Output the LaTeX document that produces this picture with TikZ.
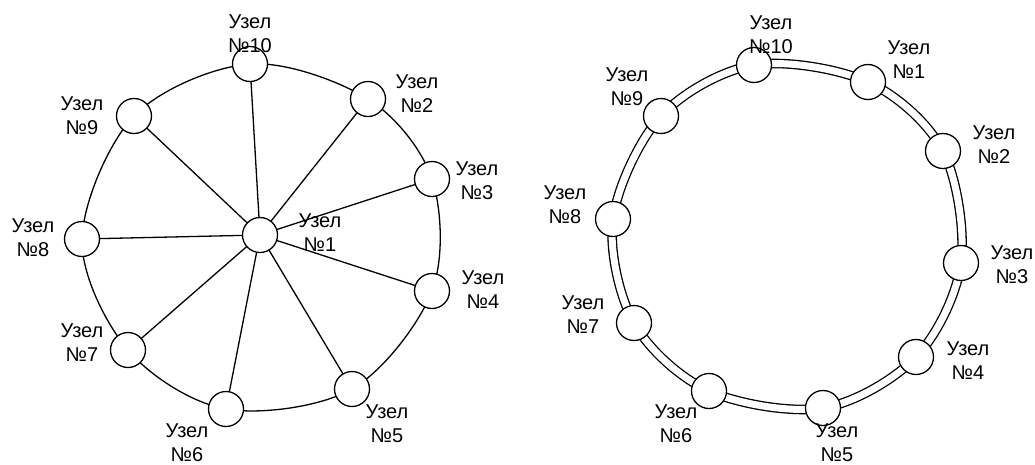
\documentclass[tikz,border=0pt]{standalone}
\usepackage{fontspec}
\setmainfont{Liberation Sans}
\begin{document}
\begin{tikzpicture}[x=1pt,y=-1pt,
  nd/.style={circle,draw,fill=white,line width=1.3pt,minimum size=35pt,inner sep=0pt},
  lbl/.style={align=center,font=\fontsize{20}{24}\selectfont,inner sep=0pt},
  wire/.style={line width=1.3pt}]
\useasboundingbox (0,0) rectangle (1035,464);
% left: star + ring
\coordinate (a10) at (250,64);
\coordinate (a2) at (368,99);
\coordinate (a3) at (432,179);
\coordinate (a4) at (432,291);
\coordinate (a5) at (352,389);
\coordinate (a6) at (226,409);
\coordinate (a7) at (128,350);
\coordinate (a8) at (82,239);
\coordinate (a9) at (134,116);
\coordinate (a1) at (260,235);
\draw[wire] plot[smooth cycle,tension=0.55] coordinates {(a10) (a2) (a3) (a4) (a5) (a6) (a7) (a8) (a9)};
\foreach \i in {2,...,10} {\draw[wire] (a1) -- (a\i);}
\foreach \i in {1,...,10} {\node[nd] (A\i) at (a\i) {};}
\node[lbl] (LA10) at (250,34) {Узел\\№10};
\node[lbl] (LA2) at (417,94) {Узел\\№2};
\node[lbl] (LA3) at (477,181) {Узел\\№3};
\node[lbl] (LA4) at (483,290) {Узел\\№4};
\node[lbl] (LA5) at (387,424) {Узел\\№5};
\node[lbl] (LA6) at (187,443) {Узел\\№6};
\node[lbl] (LA7) at (82,343) {Узел\\№7};
\node[lbl] (LA8) at (33,238) {Узел\\№8};
\node[lbl] (LA9) at (82,116) {Узел\\№9};
\node[lbl] (LA1) at (320,233) {Узел\\№1};
% right: double ring
\coordinate (b10) at (754,65);
\coordinate (b1) at (868,82);
\coordinate (b2) at (943,151);
\coordinate (b3) at (961,263);
\coordinate (b4) at (916,357);
\coordinate (b5) at (823,408);
\coordinate (b6) at (709,391);
\coordinate (b7) at (634,323);
\coordinate (b8) at (613,219);
\coordinate (b9) at (661,116);
\draw[line width=1.3pt,double=white,double distance=7pt] plot[smooth cycle,tension=0.55] coordinates {(b10) (b1) (b2) (b3) (b4) (b5) (b6) (b7) (b8) (b9)};
\foreach \i in {1,...,10} {\node[nd] (B\i) at (b\i) {};}
\node[lbl] (LB10) at (771,35) {Узел\\№10};
\node[lbl] (LB1) at (909,60) {Узел\\№1};
\node[lbl] (LB2) at (994,145) {Узел\\№2};
\node[lbl] (LB3) at (1012,265) {Узел\\№3};
\node[lbl] (LB4) at (968,361) {Узел\\№4};
\node[lbl] (LB5) at (837,443) {Узел\\№5};
\node[lbl] (LB6) at (676,424) {Узел\\№6};
\node[lbl] (LB7) at (583,315) {Узел\\№7};
\node[lbl] (LB8) at (565,205) {Узел\\№8};
\node[lbl] (LB9) at (627,87) {Узел\\№9};
\end{tikzpicture}
\end{document}
